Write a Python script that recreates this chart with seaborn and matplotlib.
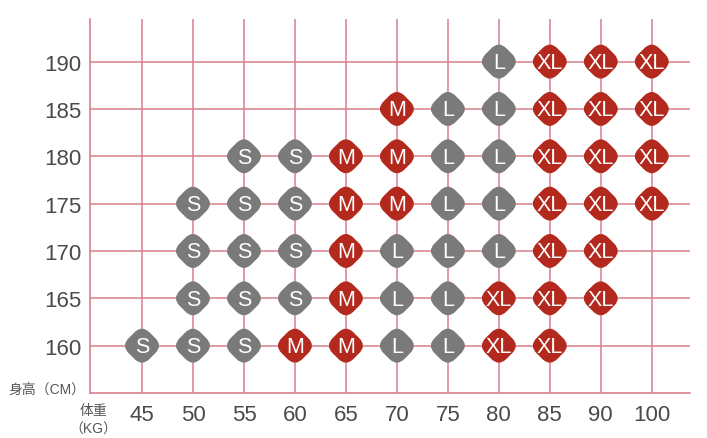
import matplotlib
matplotlib.use('Agg')
import matplotlib.pyplot as plt
from matplotlib.path import Path
import numpy as np
import pandas as pd
import seaborn as sns

weights = ['45', '50', '55', '60', '65', '70', '75', '80', '85', '90', '100']
heights = [160, 165, 170, 175, 180, 185, 190]

# size chart rows: height -> list of (weight, size)
row_160 = [('45', 'S'), ('50', 'S'), ('55', 'S'), ('60', 'M'), ('65', 'M'), ('70', 'L'), ('75', 'L'), ('80', 'XL'), ('85', 'XL')]
row_165 = [('50', 'S'), ('55', 'S'), ('60', 'S'), ('65', 'M'), ('70', 'L'), ('75', 'L'), ('80', 'XL'), ('85', 'XL'), ('90', 'XL')]
row_170 = [('50', 'S'), ('55', 'S'), ('60', 'S'), ('65', 'M'), ('70', 'L'), ('75', 'L'), ('80', 'L'), ('85', 'XL'), ('90', 'XL')]
row_175 = [('50', 'S'), ('55', 'S'), ('60', 'S'), ('65', 'M'), ('70', 'M'), ('75', 'L'), ('80', 'L'), ('85', 'XL'), ('90', 'XL'), ('100', 'XL')]
row_180 = [('55', 'S'), ('60', 'S'), ('65', 'M'), ('70', 'M'), ('75', 'L'), ('80', 'L'), ('85', 'XL'), ('90', 'XL'), ('100', 'XL')]
row_185 = [('70', 'M'), ('75', 'L'), ('80', 'L'), ('85', 'XL'), ('90', 'XL'), ('100', 'XL')]
row_190 = [('80', 'L'), ('85', 'XL'), ('90', 'XL'), ('100', 'XL')]

rows = {160: row_160, 165: row_165, 170: row_170, 175: row_175,
        180: row_180, 185: row_185, 190: row_190}
size_colors = {'S': '#7a7a7a', 'L': '#7a7a7a', 'M': '#b3291d', 'XL': '#b3291d'}

records = []
for h, row in rows.items():
    for w, s in row:
        records.append({'x': weights.index(w), 'height': h, 'size': s})
df = pd.DataFrame(records)

# rounded diamond marker
t = 0.36
corners = [(0, 1), (1, 0), (0, -1), (-1, 0)]
verts, codes = [], []
for i, c in enumerate(corners):
    prev = corners[i - 1]
    nxt = corners[(i + 1) % 4]
    a = (c[0] + (prev[0] - c[0]) * t, c[1] + (prev[1] - c[1]) * t)
    b = (c[0] + (nxt[0] - c[0]) * t, c[1] + (nxt[1] - c[1]) * t)
    verts.append(a); codes.append(Path.MOVETO if i == 0 else Path.LINETO)
    verts += [c, b]; codes += [Path.CURVE3, Path.CURVE3]
verts.append(verts[0]); codes.append(Path.CLOSEPOLY)
diamond = Path(verts, codes)

sns.set_style('white')
plt.rcParams['font.family'] = ['Liberation Sans', 'Noto Sans CJK SC', 'DejaVu Sans']

fig = plt.figure(figsize=(7.07, 4.39), dpi=100)
ax = fig.add_axes([90 / 707, 45 / 439, 600 / 707, 374 / 439])

line_c = '#d9808c'
for i in range(len(weights)):
    ax.axvline(i, color=line_c, lw=1.1, zorder=0)
for h in heights:
    ax.axhline(h, color=line_c, lw=1.1, zorder=0)

sns.scatterplot(data=df, x='x', y='height', hue='size', palette=size_colors,
                marker=diamond, s=900, linewidth=0, legend=False, ax=ax, zorder=3)

for _, r in df.iterrows():
    ax.text(r['x'], r['height'] - 0.1, r['size'], color='white', fontsize=15.5,
            ha='center', va='center', zorder=4)

ax.set_xlim(-1.02, 10.75)
ax.set_ylim(155, 194.5)
ax.set_xticks(range(len(weights)))
ax.set_xticklabels(weights)
ax.set_yticks(heights)
ax.tick_params(axis='both', length=0, labelsize=16, labelcolor='#4a4a4a')
ax.tick_params(axis='y', pad=6)
ax.tick_params(axis='x', pad=8)
ax.set_xlabel('')
ax.set_ylabel('')
for side in ['top', 'right']:
    ax.spines[side].set_visible(False)
for side in ['left', 'bottom']:
    ax.spines[side].set_color(line_c)
    ax.spines[side].set_linewidth(1.2)

fig.text(8 / 707, 1 - 391 / 439, '身高（CM）', fontsize=10, color='#555555', va='center', ha='left')
fig.text(93 / 707, 1 - 411 / 439, '体重', fontsize=10, color='#555555', va='center', ha='center')
fig.text(93 / 707, 1 - 430 / 439, '（KG）', fontsize=10, color='#555555', va='center', ha='center')

fig.savefig('out.png', dpi=100, facecolor='white')
